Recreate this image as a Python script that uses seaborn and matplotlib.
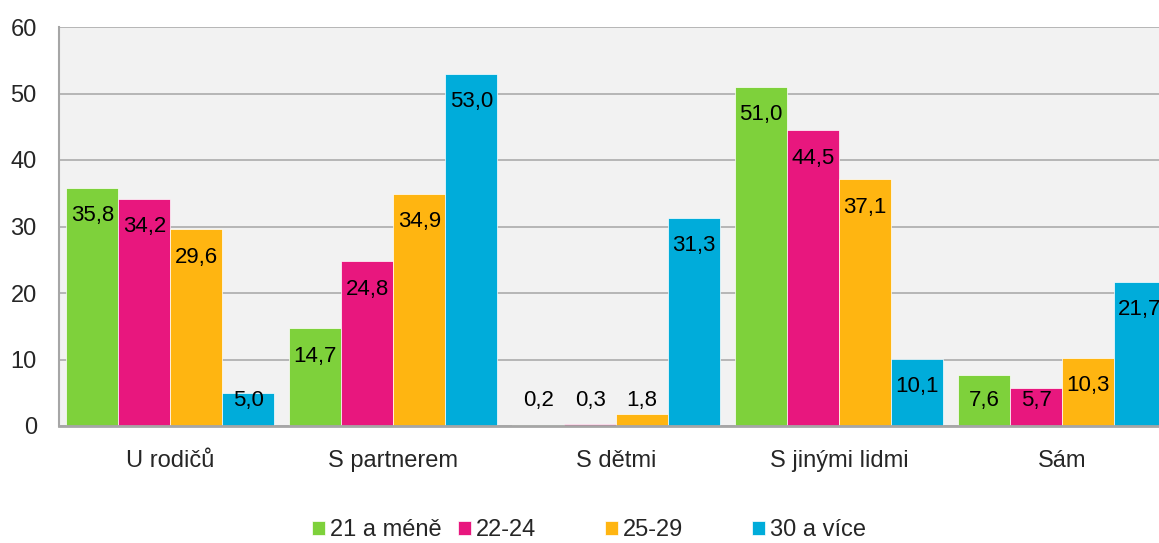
import pandas as pd
import matplotlib.pyplot as plt
import seaborn as sns

# data
categories = ["U rodičů", "S partnerem", "S dětmi", "S jinými lidmi", "Sám"]
groups = ["21 a méně", "22-24", "25-29", "30 a více"]
v_21 = [35.8, 14.7, 0.2, 51.0, 7.6]
v_22 = [34.2, 24.8, 0.3, 44.5, 5.7]
v_25 = [29.6, 34.9, 1.8, 37.1, 10.3]
v_30 = [5.0, 53.0, 31.3, 10.1, 21.7]
colors = ["#7ED13B", "#E8177E", "#FFB511", "#00ACDA"]

df = pd.DataFrame({
    "kategorie": categories * 4,
    "skupina": [g for g in groups for _ in categories],
    "podil": v_21 + v_22 + v_25 + v_30,
})

sns.set_style("white")
plt.rcParams["font.family"] = ["Liberation Sans", "DejaVu Sans"]

fig = plt.figure(figsize=(11.59, 5.43), dpi=100)
ax = fig.add_axes([59 / 1159, 117 / 543, 1114.5 / 1159, 399 / 543])
ax.set_facecolor("#F2F2F2")

sns.barplot(data=df, x="kategorie", y="podil", hue="skupina",
            order=categories, hue_order=groups, palette=colors,
            width=0.933, saturation=1, edgecolor="white", linewidth=0.5, ax=ax)

ax.set_xlim(-0.5, 4.5)
ax.set_ylim(0, 60)
ax.set_yticks(range(0, 61, 10))
ax.yaxis.grid(True, color="#A6A6A6", linewidth=1.1)
ax.set_axisbelow(True)
ax.set_xlabel("")
ax.set_ylabel("")
for s in ["top", "right"]:
    ax.spines[s].set_visible(False)
ax.spines["left"].set_color("#A6A6A6")
ax.spines["left"].set_linewidth(1.5)
ax.spines["bottom"].set_color("#A6A6A6")
ax.spines["bottom"].set_linewidth(2)
ax.tick_params(axis="both", length=0, labelsize=17)
ax.tick_params(axis="y", pad=16)
ax.tick_params(axis="x", pad=17)

# value labels inside top of bars
for cont in ax.containers:
    for bar in cont:
        v = bar.get_height()
        ax.text(bar.get_x() + bar.get_width() / 2, max(v - 4.2, 3.9),
                f"{v:.1f}".replace(".", ","), ha="center", va="center",
                fontsize=16, color="black")

# legend: equal-width columns like the original
handles, labels = ax.get_legend_handles_labels()
ax.get_legend().remove()
legend_x = [312, 458, 605, 752]
for h, l, x in zip(handles, labels, legend_x):
    fig.legend([h], [l], loc="center left", bbox_to_anchor=(x / 1159, 0.024),
               frameon=False, fontsize=17, handlelength=0.55, handleheight=0.55,
               handletextpad=0.2, borderpad=0, borderaxespad=0)

plt.savefig("out.png", dpi=100)
